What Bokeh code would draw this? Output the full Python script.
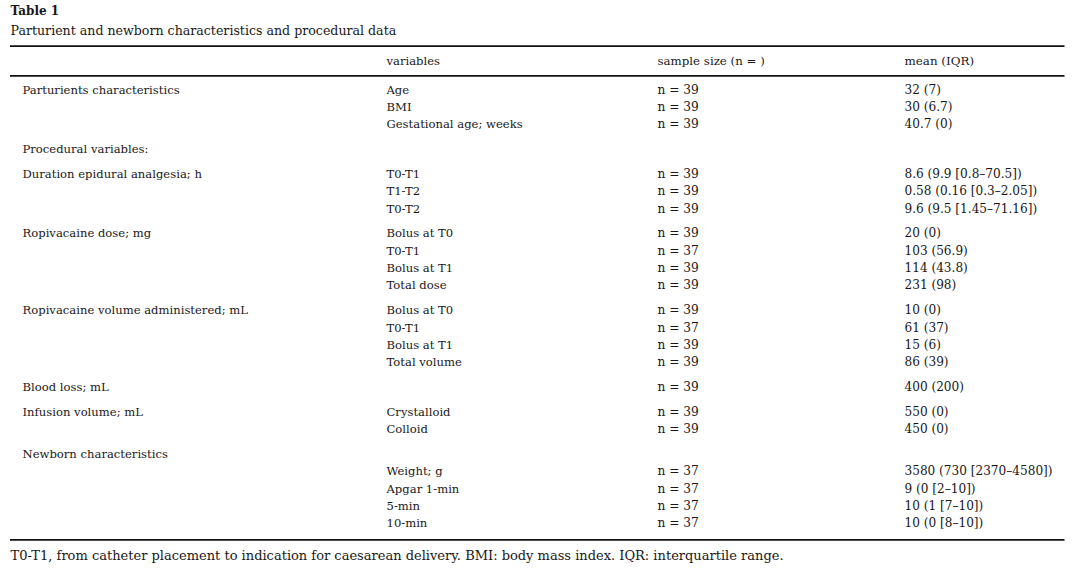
from bokeh.plotting import figure
from bokeh.models import Range1d, ColumnDataSource
from bokeh.core.properties import value
from bokeh.embed import file_html
from bokeh.resources import INLINE

# ---- data ----
table_label = "Table 1"
table_caption = "Parturient and newborn characteristics and procedural data"
col_headers = ["variables", "sample size (n = )", "mean (IQR)"]
row_group = ["Parturients characteristics", "", "",
             "Procedural variables:",
             "Duration epidural analgesia; h", "", "",
             "Ropivacaine dose; mg", "", "", "",
             "Ropivacaine volume administered; mL", "", "", "",
             "Blood loss; mL",
             "Infusion volume; mL", "",
             "Newborn characteristics", "", "", "", ""]
row_var = ["Age", "BMI", "Gestational age; weeks",
           "",
           "T0-T1", "T1-T2", "T0-T2",
           "Bolus at T0", "T0-T1", "Bolus at T1", "Total dose",
           "Bolus at T0", "T0-T1", "Bolus at T1", "Total volume",
           "",
           "Crystalloid", "Colloid",
           "", "Weight; g", "Apgar 1-min", "5-min", "10-min"]
row_n = ["n = 39", "n = 39", "n = 39",
         "",
         "n = 39", "n = 39", "n = 39",
         "n = 39", "n = 37", "n = 39", "n = 39",
         "n = 39", "n = 37", "n = 39", "n = 39",
         "n = 39",
         "n = 39", "n = 39",
         "", "n = 37", "n = 37", "n = 37", "n = 37"]
row_mean = ["32 (7)", "30 (6.7)", "40.7 (0)",
            "",
            "8.6 (9.9 [0.8–70.5])", "0.58 (0.16 [0.3–2.05])", "9.6 (9.5 [1.45–71.16])",
            "20 (0)", "103 (56.9)", "114 (43.8)", "231 (98)",
            "10 (0)", "61 (37)", "15 (6)", "86 (39)",
            "400 (200)",
            "550 (0)", "450 (0)",
            "", "3580 (730 [2370–4580])", "9 (0 [2–10])", "10 (1 [7–10])", "10 (0 [8–10])"]
footnote = ("T0-T1, from catheter placement to indication for caesarean delivery. "
            "BMI: body mass index. IQR: interquartile range.")

# ---- layout ----
FONT = "DejaVu Serif"
COLOR = "#1A1718"
col_x = [22, 386, 657, 904]
y0, step, gap = 89.0, 17.3, 7.6

ys = []
y = y0
for i, g in enumerate(row_group):
    if i > 0:
        y += step + (gap if g else 0)
    ys.append(y)

p = figure(width=1080, height=571, output_backend="svg", toolbar_location=None,
           x_range=Range1d(0, 1080), y_range=Range1d(571, 0),
           x_axis_location=None, y_axis_location=None, min_border=0,
           background_fill_color="white", border_fill_color="white")
p.grid.visible = False
p.outline_line_color = None

def put(xs, yv, texts, size="11.6px", style="normal"):
    src = ColumnDataSource(dict(x=xs, y=yv, t=texts))
    p.text(x="x", y="y", text="t", source=src, text_font=value(FONT),
           text_font_size=size, text_font_style=style, text_color=COLOR,
           text_baseline="middle", text_align="left")

put([10], [10.5], [table_label], size="12px", style="bold")
put([10], [29.5], [table_caption], size="12.6px")
put([col_x[1]], [60], [col_headers[0]])
put([col_x[2]], [60], [col_headers[1]], size="11.8px")
put([col_x[3]], [60], [col_headers[2]], size="11.9px")
put([col_x[0]] * len(ys), ys, row_group)
put([col_x[1]] * len(ys), ys, row_var)
put([col_x[2]] * len(ys), ys, row_n, size="12.2px")
put([col_x[3]] * len(ys), ys, row_mean, size="12.1px")
put([10], [555], [footnote], size="13px")

for ly in (45.7, 75.3, 539.3):
    p.line(x=[9.5, 1064], y=[ly, ly], line_color="#111111", line_width=1.7)

open("out.html", "w").write(file_html(p, INLINE))
